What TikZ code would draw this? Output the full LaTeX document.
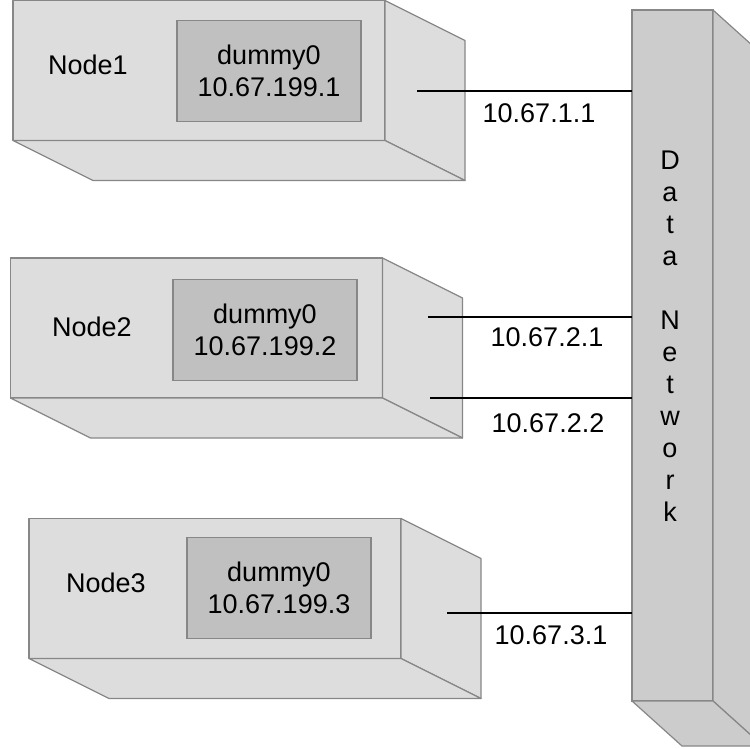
\documentclass[tikz,border=0pt]{standalone}
\usepackage{fontspec}
\setmainfont{Liberation Sans}
\usetikzlibrary{calc}
\definecolor{boxgray}{RGB}{221,221,221}
\definecolor{ifgray}{RGB}{192,192,192}
\definecolor{netgray}{RGB}{204,204,204}
\definecolor{edgegray}{RGB}{135,135,135}
\tikzset{
  face/.style={draw=edgegray, fill=boxgray, line width=1.2pt, line join=round},
  hostfront/.style={face, rectangle, inner sep=0pt, outer sep=0pt,
    minimum width=372pt, minimum height=140pt},
  iface/.style={draw=edgegray, fill=ifgray, line width=1.2pt, inner sep=0pt,
    minimum width=184pt, minimum height=101pt, align=center,
    font=\fontsize{27}{32}\selectfont},
  netfront/.style={draw=edgegray, fill=netgray, line width=1.2pt, inner sep=0pt,
    outer sep=0pt, minimum width=81pt, minimum height=691pt},
  netface/.style={draw=edgegray, fill=netgray, line width=1.2pt, line join=round},
  txt/.style={inner sep=0pt, font=\fontsize{27}{32}\selectfont},
  wire/.style={draw=black, line width=1.4pt},
}
% side and bottom faces of a host box, depth (80,40)
\newcommand\hostdepth[1]{%
  \path[face] (#1.north east) -- ++(80,40) -- ([shift={(80,40)}]#1.south east)
    -- (#1.south east) -- cycle;
  \path[face] (#1.south west) -- ++(80,40) -- ([shift={(80,40)}]#1.south east)
    -- (#1.south east) -- cycle;
}
\begin{document}
\begin{tikzpicture}[x=1pt,y=-1pt]
\useasboundingbox (0,0) rectangle (750,748);
\begin{scope}
\clip (0,0) rectangle (750,748);

% hosts
\node[hostfront] (h1) at (199,70.5) {};
\node[hostfront] (h2) at (196.5,328) {};
\node[hostfront] (h3) at (215,588.5) {};
\hostdepth{h1}
\hostdepth{h2}
\hostdepth{h3}

\node[txt] (h1name) at (88,65) {Node1};
\node[txt] (h2name) at (92,327) {Node2};
\node[txt] (h3name) at (106,583) {Node3};

\node[iface] (d1) at (269,71) {dummy0\\10.67.199.1};
\node[iface] (d2) at (265,330) {dummy0\\10.67.199.2};
\node[iface] (d3) at (279,588) {dummy0\\10.67.199.3};

% data network
\node[netfront] (net) at (672.5,355.5) {};
\path[netface] (net.north east) -- ++(50,45) -- ([shift={(50,45)}]net.south east)
  -- (net.south east) -- cycle;
\path[netface] (net.south west) -- ++(50,45) -- ([shift={(50,45)}]net.south east)
  -- (net.south east) -- cycle;
\node[txt, align=center] (netname) at (670,336)
  {D\\a\\t\\a\\\mbox{}\\N\\e\\t\\w\\o\\r\\k};

% links
\coordinate (p1) at (417,91);
\coordinate (p2a) at (428,317);
\coordinate (p2b) at (430,398);
\coordinate (p3) at (447,613);
\draw[wire] (p1) -- (p1 -| net.west);
\draw[wire] (p2a) -- (p2a -| net.west);
\draw[wire] (p2b) -- (p2b -| net.west);
\draw[wire] (p3) -- (p3 -| net.west);

\node[txt] (a1) at (539,113) {10.67.1.1};
\node[txt] (a2) at (547,337) {10.67.2.1};
\node[txt] (a3) at (548,423) {10.67.2.2};
\node[txt] (a4) at (551,635) {10.67.3.1};
\end{scope}
\end{tikzpicture}
\end{document}
